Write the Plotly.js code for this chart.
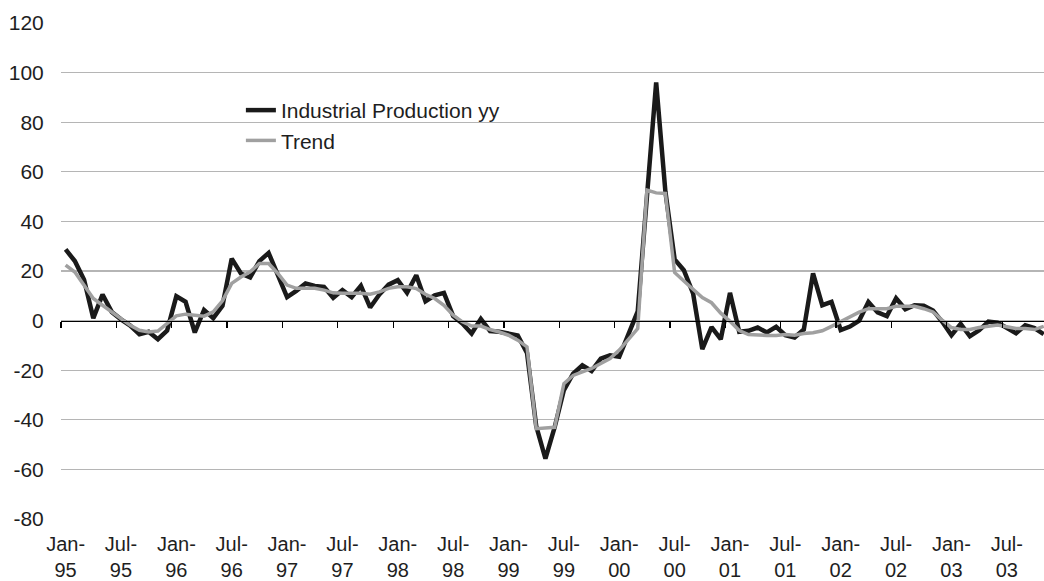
<!DOCTYPE html>
<html>
<head>
<meta charset="utf-8">
<script src="https://cdn.plot.ly/plotly-3.0.1.min.js"></script>
<style>
html, body { margin: 0; padding: 0; background: #ffffff; }
#chart { width: 1044px; height: 581px; }
</style>
</head>
<body>
<div id="chart"></div>
<script>
// Monthly series, Jan-95 onwards (index 0 = Jan-95)
const industrialProductionYY = [
  28.7, 24, 16.5, 1, 10.5, 3.5, 0.5, -2, -5.5, -4.5, -7.5, -4,
  9.8, 7.6, -4.8, 4.3, 1, 6, 25, 19, 17.4, 24, 27.3, 18,
  9.5, 12, 15, 14, 13.6, 9.2, 12.3, 9.5, 14, 5.3, 10.5, 14.5,
  16.3, 11.2, 18.3, 7.8, 10.2, 11.2, 1.8, -1.2, -5.2, 0.7, -4.2, -4.5,
  -5.2, -6, -13, -42.5, -55.7, -43, -28, -21.4, -18, -20.3, -15.3, -14,
  -14.6, -5.9, 3.7, 50, 96, 52, 24.7, 20.3, 11, -11.5, -2.6, -7.5,
  11.2, -4.5, -4.1, -2.8, -4.8, -2.5, -5.9, -6.8, -3.6, 19, 6.2, 7.5,
  -3.8, -2.4, 0, 7.5, 3.3, 1.8, 9, 4.6, 6.2, 6, 4.1, -0.5,
  -5.9, -1.3, -6.3, -3.9, -0.4, -0.8, -3.2, -5.1, -1.9, -3, -5.5
];
const trend = [
  22.4, 19.6, 14.3, 8.9, 6.2, 3.5, 0.8, -1.9, -3.9, -4.6, -4.2, -1.2,
  1.9, 2.6, 2.2, 1.8, 3.5, 8, 15, 17.6, 19.7, 23, 23, 19,
  14.3, 13, 13, 13, 12.3, 11.2, 11, 11, 11, 10.6, 11.6, 13,
  13.6, 13.6, 12.9, 10.6, 8.9, 6.2, 2.2, -0.5, -2.2, -2.2, -3.6, -4.6,
  -5.9, -7.9, -10.6, -43.6, -43.3, -43, -25.4, -22.1, -20.7, -19.3, -17.3, -15.3,
  -11.9, -7.3, -3.2, 52.6, 51.5, 51.3, 19.4, 16, 12.5, 9.3, 7.2, 3,
  -0.3, -4, -5.6, -5.9, -6, -6, -5.6, -5.9, -5.2, -4.9, -4.1, -2.3,
  -0.3, 1.7, 3.4, 4.8, 4.8, 4.8, 5.8, 5.8, 5.8, 4.8, 3.5, 0.2,
  -2.8, -3.6, -3.6, -2.8, -2.3, -1.8, -2.5, -3.2, -3.2, -3.6, -2.3
];
const tickLabels = [
  "Jan-<br>95", "Jul-<br>95", "Jan-<br>96", "Jul-<br>96", "Jan-<br>97", "Jul-<br>97",
  "Jan-<br>98", "Jul-<br>98", "Jan-<br>99", "Jul-<br>99", "Jan-<br>00", "Jul-<br>00",
  "Jan-<br>01", "Jul-<br>01", "Jan-<br>02", "Jul-<br>02", "Jan-<br>03", "Jul-<br>03"
];
const yTicks = [-80, -60, -40, -20, 0, 20, 40, 60, 80, 100, 120];
const yTickLabels = ["-80", "-60", "-40", "-20", "0", "20", "40", "60", "80", "100", "120"];

const monthIndex = industrialProductionYY.map((_, i) => i);
const labelPos = tickLabels.map((_, k) => k * 6);
const boundaryPos = tickLabels.map((_, k) => k * 6 - 0.5);

const FONT = "Liberation Sans, Arial, sans-serif";
const xRange = [-0.5, 106.03];

const traces = [
  {
    x: monthIndex, y: industrialProductionYY, type: "scatter", mode: "lines",
    name: "Industrial Production yy",
    line: { color: "#1a1a1a", width: 4.5 },
    xaxis: "x", yaxis: "y", hoverinfo: "skip"
  },
  {
    x: monthIndex, y: trend, type: "scatter", mode: "lines",
    name: "Trend",
    line: { color: "#a0a0a0", width: 3.5 },
    xaxis: "x2", yaxis: "y", hoverinfo: "skip"
  }
];

const layout = {
  width: 1044, height: 581,
  margin: { l: 61, r: 0, t: 23, b: 62 },
  paper_bgcolor: "#ffffff", plot_bgcolor: "#ffffff",
  font: { family: FONT, size: 21, color: "#1e1e1e" },
  showlegend: true,
  legend: {
    x: 0.183, y: 0.865, xanchor: "left", yanchor: "top",
    bgcolor: "rgba(0,0,0,0)", font: { family: FONT, size: 21, color: "#1e1e1e" },
    tracegroupgap: 0
  },
  xaxis: {
    range: xRange, anchor: "free", position: 0.4,
    showline: true, linecolor: "#000000", linewidth: 1.3,
    ticks: "outside", tickmode: "array", tickvals: boundaryPos,
    ticklen: 6, tickwidth: 1.3, tickcolor: "#000000",
    showticklabels: false, showgrid: false, zeroline: false, fixedrange: true
  },
  xaxis2: {
    overlaying: "x", matches: "x", range: xRange, anchor: "y", side: "bottom",
    showline: false, showgrid: false, zeroline: false,
    tickmode: "array", tickvals: labelPos, ticktext: tickLabels,
    ticks: "outside", ticklen: 7, tickcolor: "rgba(0,0,0,0)",
    tickfont: { family: FONT, size: 20, color: "#1e1e1e" }, tickangle: 0
  },
  yaxis: {
    range: [-80, 120], tickmode: "array", tickvals: yTicks, ticktext: yTickLabels,
    showgrid: true, gridcolor: "#b5b5b5", gridwidth: 1.3,
    zeroline: false, showline: false,
    ticks: "outside", ticklen: 12, tickcolor: "rgba(0,0,0,0)",
    tickfont: { family: FONT, size: 21, color: "#1e1e1e" }
  }
};

Plotly.newPlot("chart", traces, layout, { displayModeBar: false, staticPlot: true });
</script>
</body>
</html>
